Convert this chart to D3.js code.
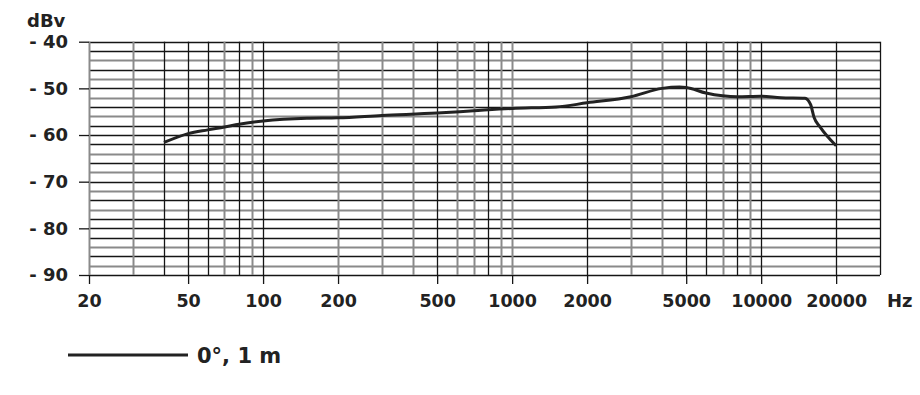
<!DOCTYPE html>
<html>
<head>
<meta charset="utf-8">
<script src="https://cdn.jsdelivr.net/npm/d3@7"></script>
<style>
  html, body { margin: 0; padding: 0; background: #fff; }
  svg { display: block; }
  text { font-family: "DejaVu Sans", sans-serif; fill: #222; }
</style>
</head>
<body>
<svg id="chart" width="920" height="395"></svg>
<script>
// ---- data ----
const freqHz = [40, 50, 60, 70, 80, 100, 150, 200, 300, 500, 700, 1000, 1500, 2000, 3000, 4000, 4700, 5000, 6000, 7000, 8000, 10000, 12000, 15000, 15800, 16300, 17200, 20000];
const levelDb = [-61.6, -59.7, -58.9, -58.3, -57.7, -57.0, -56.4, -56.3, -55.8, -55.3, -54.8, -54.3, -54.0, -53.1, -51.8, -50.0, -49.7, -49.8, -51.0, -51.6, -51.8, -51.7, -52.0, -52.1, -53.5, -56.2, -58.2, -62.3];
const xTickLabels = [20, 50, 100, 200, 500, 1000, 2000, 5000, 10000, 20000];
const yTickLabels = [-40, -50, -60, -70, -80, -90];
const xGridFreqs = [20,30,40,50,60,70,80,90,100,200,300,400,500,600,700,800,900,1000,2000,3000,4000,5000,6000,7000,8000,9000,10000,20000,30000];
const yGridDb = d3.range(-90, -39, 2);
const seriesName = "0°, 1 m";

// ---- layout ----
const svg = d3.select("#chart");
const pL = 89, pR = 880, pT = 41.7, pB = 275;
const x = d3.scaleLog().domain([20, 30000]).range([pL, pR]);
const y = d3.scaleLinear().domain([-90, -40]).range([pB, pT]);
const crisp = v => Math.round(v) + 0.5;

const grayX = new Set([20,30,70,90,200,300,400,600,700,900,1000,3000,4000,7000,9000]);
const g = svg.append("g");

// horizontal grid
g.selectAll("line.h").data(yGridDb).join("line").attr("class", "h")
  .attr("x1", pL).attr("x2", pR)
  .attr("y1", d => crisp(y(d))).attr("y2", d => crisp(y(d)))
  .attr("stroke", (d, i) => (d % 10 === 0) ? "#151515" : (i % 2 ? "#8a8a8a" : "#151515"))
  .attr("stroke-width", (d, i) => (d % 10 === 0) ? 1.3 : (i % 2 ? 2 : 1.3));

// vertical grid
g.selectAll("line.v").data(xGridFreqs).join("line").attr("class", "v")
  .attr("x1", d => crisp(x(d))).attr("x2", d => crisp(x(d)))
  .attr("y1", pT).attr("y2", pB)
  .attr("stroke", d => grayX.has(d) ? "#8a8a8a" : "#151515")
  .attr("stroke-width", d => grayX.has(d) ? 2 : 1.3);

// y axis
const yAxis = d3.axisLeft(y).tickValues(yTickLabels).tickSize(10).tickPadding(11)
  .tickFormat(d => "- " + Math.abs(d));
const ya = svg.append("g").attr("transform", `translate(${pL},0)`).call(yAxis);
ya.select(".domain").remove();
ya.selectAll(".tick line").attr("stroke", "#151515").attr("stroke-width", 1.3);
ya.selectAll(".tick text").style("font-size", "18px").style("font-weight", "700")
  .style("font-family", "DejaVu Sans, sans-serif").attr("fill", "#222");

// x axis
const xAxis = d3.axisBottom(x).tickValues(xTickLabels).tickSize(9).tickPadding(11)
  .tickFormat(d => String(d));
const xa = svg.append("g").attr("transform", `translate(0,${pB})`).call(xAxis);
xa.select(".domain").remove();
xa.selectAll(".tick line").attr("stroke", "#151515").attr("stroke-width", 1.3);
xa.selectAll(".tick text").style("font-size", "17.5px").style("font-weight", "700")
  .style("font-family", "DejaVu Sans, sans-serif").attr("fill", "#222");

// unit labels
svg.append("text").attr("x", 27).attr("y", 27).style("font-size", "18px").style("font-weight", "700").text("dBv");
svg.append("text").attr("x", 887).attr("y", 307).style("font-size", "18px").style("font-weight", "700").text("Hz");

// curve
const pts = freqHz.map((f, i) => [f, levelDb[i]]);
const line = d3.line().x(d => x(d[0])).y(d => y(d[1])).curve(d3.curveMonotoneX);
svg.append("path").datum(pts).attr("d", line)
  .attr("fill", "none").attr("stroke", "#222").attr("stroke-width", 3)
  .attr("stroke-linejoin", "round").attr("stroke-linecap", "butt");

// legend
svg.append("line").attr("x1", 68).attr("x2", 188).attr("y1", 355).attr("y2", 355)
  .attr("stroke", "#222").attr("stroke-width", 3);
svg.append("text").attr("x", 197).attr("y", 363).style("font-size", "21px").style("font-weight", "700").text(seriesName);
</script>
</body>
</html>
